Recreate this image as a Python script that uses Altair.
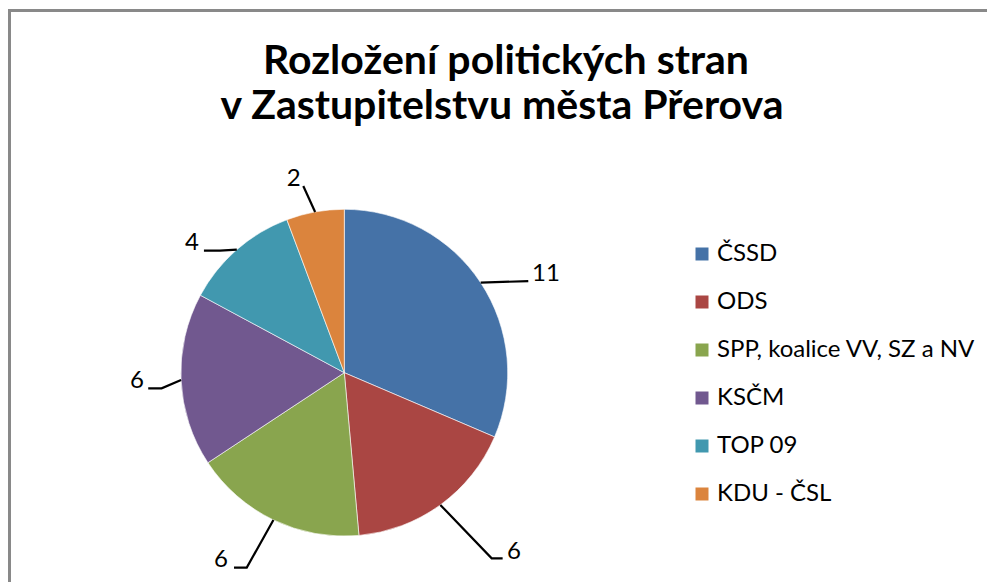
import math
import altair as alt
import pandas as pd

# ---- data -------------------------------------------------------------
parties = ["ČSSD", "ODS", "SPP, koalice VV, SZ a NV", "KSČM", "TOP 09", "KDU - ČSL"]
seats = [11, 6, 6, 6, 4, 2]
colors = ["#4572A7", "#AA4643", "#89A54E", "#71588F", "#4198AF", "#DB843D"]

title_lines = ["Rozložení politických stran", "v Zastupitelstvu města Přerova"]

# ---- label layout (pie-radius units, origin at the pie centre, y up) ----
leader_elbow = [(1.126, 0.561), (0.902, -1.136), (-0.597, -1.193),
                (-1.118, -0.0955), (-0.761, 0.747), (-0.251, 1.143)]
leader_end = [(1.126, 0.561), (0.969, -1.136), (-0.675, -1.193),
              (-1.200, -0.0955), (-0.859, 0.747), (-0.251, 1.143)]
label_pos = [(1.234, 0.605), (1.039, -1.095), (-0.755, -1.146),
             (-1.269, -0.048), (-0.932, 0.794), (-0.310, 1.187)]

W, H = 987, 582
CX, CY, R = 344.3, 372.7, 163.4
FONT = "Lato"

df = pd.DataFrame({"party": parties, "seats": seats, "idx": range(len(parties))})

total = sum(seats)
rows = []
cum = 0
for i, (p, s) in enumerate(zip(parties, seats)):
    mid = (cum + s / 2) / total * 2 * math.pi
    cum += s
    pts = [(math.sin(mid), math.cos(mid)), leader_elbow[i], leader_end[i]]
    for k, (u, v) in enumerate(pts):
        rows.append({"party": p, "pt": k, "u": u, "v": v})
lines_df = pd.DataFrame(rows)

labels_df = pd.DataFrame({
    "party": parties,
    "seats": seats,
    "u": [p[0] for p in label_pos],
    "v": [p[1] for p in label_pos],
})

xscale = alt.Scale(domain=[-CX / R, (W - CX) / R], nice=False, zero=False)
yscale = alt.Scale(domain=[-(H - CY) / R, CY / R], nice=False, zero=False)

pie = alt.Chart(df).mark_arc(radius=R, stroke="white", strokeWidth=0.6).encode(
    theta=alt.Theta("seats:Q", stack=True),
    order=alt.Order("idx:Q"),
    color=alt.Color(
        "party:N",
        sort=parties,
        scale=alt.Scale(domain=parties, range=colors),
        legend=alt.Legend(
            orient="none", legendX=690, legendY=242, title=None,
            symbolType="square", symbolSize=169, symbolStrokeWidth=0,
            labelFont=FONT, labelFontSize=24, labelColor="black",
            labelOffset=3, rowPadding=24, padding=0, labelLimit=0,
        ),
    ),
    x=alt.value(CX),
    y=alt.value(CY),
)

leaders = alt.Chart(lines_df).mark_line(color="black", strokeWidth=2.2).encode(
    x=alt.X("u:Q", scale=xscale, axis=None),
    y=alt.Y("v:Q", scale=yscale, axis=None),
    detail="party:N",
    order="pt:Q",
)

labels = alt.Chart(labels_df).mark_text(
    font=FONT, fontSize=24, align="center", baseline="middle", color="black"
).encode(
    x=alt.X("u:Q", scale=xscale, axis=None),
    y=alt.Y("v:Q", scale=yscale, axis=None),
    text="seats:Q",
)

title_df = pd.DataFrame({"line": title_lines, "row": [0, 1]})
title1 = alt.Chart(title_df[title_df.row == 0]).mark_text(
    font=FONT, fontSize=41, fontWeight="bold", align="center", baseline="alphabetic", color="black"
).encode(x=alt.value(506), y=alt.value(74), text="line:N")
title2 = alt.Chart(title_df[title_df.row == 1]).mark_text(
    font=FONT, fontSize=41, fontWeight="bold", align="center", baseline="alphabetic", color="black"
).encode(x=alt.value(502), y=alt.value(119), text="line:N")

# chart-area frame (top and left edges visible; right/bottom fall outside)
frame = alt.Chart(df.head(1)).mark_rect(
    fillOpacity=0, stroke="#898989", strokeWidth=3
).encode(
    x=alt.value(9.5), x2=alt.value(W + 40), y=alt.value(10.5), y2=alt.value(H + 40)
)

chart = alt.layer(
    frame, pie, leaders, labels, title1, title2
).properties(
    width=W, height=H, autosize=alt.AutoSizeParams(type="none"), padding=0,
    background="white",
).configure_view(stroke=None)

chart.save("out.html", embed_options={"renderer": "svg", "actions": False})
